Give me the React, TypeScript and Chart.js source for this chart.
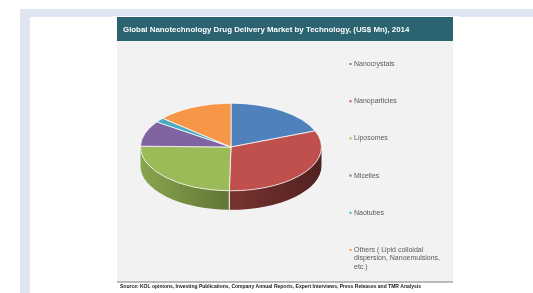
import React, { useEffect, useRef } from "react";
import { Chart, registerables } from "chart.js";
Chart.register(...registerables);

const categories = [
  "Nanocrystals",
  "Nanoparticles",
  "Liposomes",
  "Micelles",
  "Naotubes",
  "Others ( Lipid colloidal dispersion, Nanoemulsions, etc.)",
];
const legendLines = [
  ["Nanocrystals"],
  ["Nanoparticles"],
  ["Liposomes"],
  ["Micelles"],
  ["Naotubes"],
  ["Others ( Lipid colloidal", "dispersion, Nanoemulsions,", "etc.)"],
];
const values = [19.0, 31.3, 25.0, 9.4, 1.7, 13.6];
const colors = ["#4f81bd", "#c0504d", "#9bbb59", "#8064a2", "#4bacc6", "#f79646"];
const titleText = "Global Nanotechnology Drug Delivery Market by Technology, (US$ Mn), 2014";
const sourceText =
  "Source: KOL opinions, Investing Publications, Company Annual Reports, Expert Interviews, Press Releases and TMR Analysis";

const FONT = "'Liberation Sans', Arial, sans-serif";
const RATIO = 0.484;
const DEPTH = 19;

function shade(hex: string, f: number) {
  const n = parseInt(hex.slice(1), 16);
  const r = Math.round(((n >> 16) & 255) * f);
  const g = Math.round(((n >> 8) & 255) * f);
  const b = Math.round((n & 255) * f);
  return `rgb(${r},${g},${b})`;
}

function fitText(ctx: CanvasRenderingContext2D, text: string, weight: string, w: number) {
  ctx.font = `${weight} 10px ${FONT}`;
  const m = ctx.measureText(text).width;
  const size = (10 * w) / m;
  ctx.font = `${weight} ${size}px ${FONT}`;
}

const decor = {
  id: "decor",
  beforeDraw(chart: any) {
    const ctx: CanvasRenderingContext2D = chart.ctx;
    ctx.save();
    ctx.fillStyle = "#ffffff";
    ctx.fillRect(0, 0, 533, 293);
    ctx.fillStyle = "#dfe5f1";
    ctx.fillRect(20, 9, 513, 8);
    ctx.fillRect(20, 9, 10, 284);
    ctx.fillStyle = "#ffffff";
    ctx.fillRect(112, 16, 347, 277);
    // grey panel
    ctx.fillStyle = "#f2f2f2";
    ctx.fillRect(117, 41, 336, 241);
    // title bar
    ctx.fillStyle = "#2b6371";
    ctx.fillRect(117, 17, 336, 24);
    ctx.fillStyle = "#ffffff";
    ctx.textBaseline = "middle";
    ctx.textAlign = "left";
    fitText(ctx, titleText, "bold", 287);
    ctx.fillText(titleText, 123, 29.5);
    // bottom line
    ctx.fillStyle = "#7f7f7f";
    ctx.fillRect(117, 281.5, 336, 1);
    ctx.fillStyle = "#1a1a1a";
    fitText(ctx, sourceText, "bold", 302);
    ctx.fillText(sourceText, 120, 286.5);
    ctx.restore();
  },
  beforeDatasetsDraw(chart: any) {
    const ctx: CanvasRenderingContext2D = chart.ctx;
    const arcs = chart.getDatasetMeta(0).data;
    if (!arcs.length) return;
    const cx = arcs[0].x;
    const cy = arcs[0].y;
    const rx = arcs[0].outerRadius;
    const ry = rx * RATIO;
    ctx.save();
    arcs.forEach((arc: any, i: number) => {
      const a0 = Math.max(arc.startAngle, 0);
      const a1 = Math.min(arc.endAngle, Math.PI);
      if (a1 <= a0) return;
      const grad = ctx.createLinearGradient(cx - rx, 0, cx + rx, 0);
      grad.addColorStop(0, shade(colors[i], 0.88));
      grad.addColorStop(0.5, shade(colors[i], 0.62));
      grad.addColorStop(1, shade(colors[i], 0.42));
      ctx.beginPath();
      ctx.ellipse(cx, cy + DEPTH, rx, ry, 0, a0, a1, false);
      ctx.ellipse(cx, cy, rx, ry, 0, a1, a0, true);
      ctx.closePath();
      ctx.fillStyle = grad;
      ctx.fill();
      if (arc.startAngle > 0) {
        const x = cx + rx * Math.cos(a0);
        const y = cy + ry * Math.sin(a0);
        ctx.strokeStyle = "#ffffff";
        ctx.lineWidth = 1;
        ctx.beginPath();
        ctx.moveTo(x, y);
        ctx.lineTo(x, y + DEPTH);
        ctx.stroke();
      }
    });
    ctx.restore();
    ctx.save();
    ctx.translate(cx, cy);
    ctx.scale(1, RATIO);
    ctx.translate(-cx, -cy);
  },
  afterDatasetsDraw(chart: any) {
    chart.ctx.restore();
  },
  afterDraw(chart: any) {
    const ctx: CanvasRenderingContext2D = chart.ctx;
    ctx.save();
    ctx.textBaseline = "middle";
    ctx.textAlign = "left";
    ctx.font = `7px ${FONT}`;
    legendLines.forEach((lines, i) => {
      const y = 64 + i * 37.2;
      ctx.fillStyle = colors[i];
      ctx.fillRect(349.5, y - 1, 2, 2);
      ctx.fillStyle = "#595959";
      lines.forEach((t, j) => {
        ctx.fillText(t, 354, y + j * 8.3);
      });
    });
    ctx.restore();
  },
};

export default function App() {
  const ref = useRef<HTMLCanvasElement>(null);
  useEffect(() => {
    if (!ref.current) return;
    const chart = new Chart(ref.current, {
      type: "pie",
      data: {
        labels: categories,
        datasets: [
          {
            data: values,
            backgroundColor: colors,
            borderColor: "#ffffff",
            borderWidth: 1,
            clip: false,
          } as any,
        ],
      },
      options: {
        responsive: false,
        animation: false,
        devicePixelRatio: 1,
        events: [],
        layout: { padding: { left: 140, right: 211, top: 56, bottom: 55 } },
        plugins: {
          legend: { display: false },
          tooltip: { enabled: false },
          title: { display: false },
        },
      },
      plugins: [decor],
    });
    return () => chart.destroy();
  }, []);
  return (
    <div style={{ position: "fixed", left: 0, top: 0, width: 533, height: 293 }}>
      <canvas ref={ref} width={533} height={293} style={{ display: "block" }} />
    </div>
  );
}
